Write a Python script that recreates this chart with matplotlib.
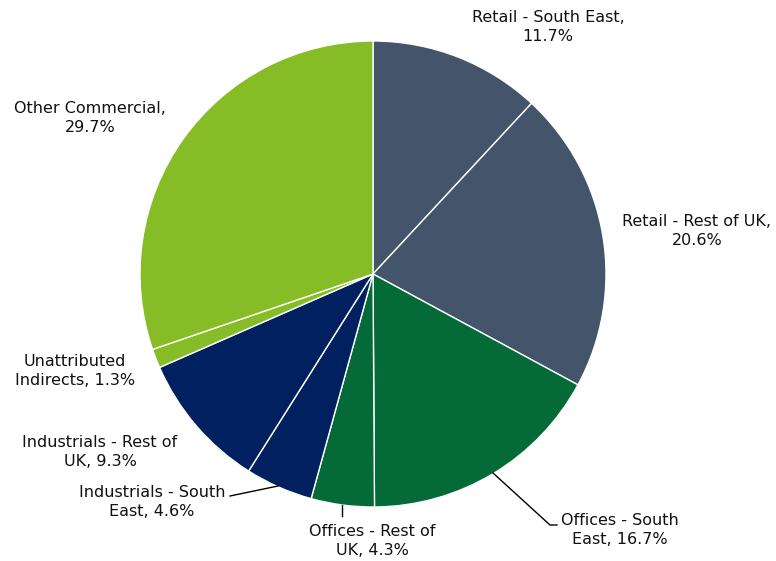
import matplotlib
matplotlib.use("Agg")
import matplotlib.pyplot as plt
import numpy as np

categories = ["Retail - South East", "Retail - Rest of UK", "Offices - South East",
              "Offices - Rest of UK", "Industrials - South East", "Industrials - Rest of UK",
              "Unattributed Indirects", "Other Commercial"]
values = [11.7, 20.6, 16.7, 4.3, 4.6, 9.3, 1.3, 29.7]
label_texts = ["Retail - South East,\n11.7%", "Retail - Rest of UK,\n20.6%",
               "Offices - South\nEast, 16.7%", "Offices - Rest of\nUK, 4.3%",
               "Industrials - South\nEast, 4.6%", "Industrials - Rest of\nUK, 9.3%",
               "Unattributed\nIndirects, 1.3%", "Other Commercial,\n29.7%"]
colors = ["#44546A", "#44546A", "#046A38", "#046A38", "#002060", "#002060", "#86BC25", "#86BC25"]

W, H = 776, 561
fig = plt.figure(figsize=(W / 100, H / 100), dpi=100)
ax = fig.add_axes([0, 0, 1, 1])

cx, cy, R = 373, H - 274, 233
ax.pie(values, colors=colors, startangle=90, counterclock=False, center=(cx, cy),
       radius=R, wedgeprops=dict(edgecolor="white", linewidth=1), frame=True)
ax.set_xlim(0, W)
ax.set_ylim(0, H)
ax.set_aspect("equal")
ax.axis("off")

# label layout (pixel coords, top-left origin) and optional leader lines
label_pos = [(548, 27), (697, 231), (620, 530), (372, 541), (152, 502), (100, 452), (75, 371), (90, 118)]
leaders = {2: [(493, 473), (550, 525), (557, 525)],
           3: [(342, 505), (342, 516)],
           4: [(278, 486), (230, 496)]}

for i, (txt, (x, y)) in enumerate(zip(label_texts, label_pos)):
    ax.text(x, H - y, txt, ha="center", va="center", fontsize=11.5, color="#111111",
            family="DejaVu Sans", linespacing=1.3)
for i, pts in leaders.items():
    xs = [p[0] for p in pts]
    ys = [H - p[1] for p in pts]
    ax.plot(xs, ys, color="black", lw=1)

fig.savefig("out.png", dpi=100)
